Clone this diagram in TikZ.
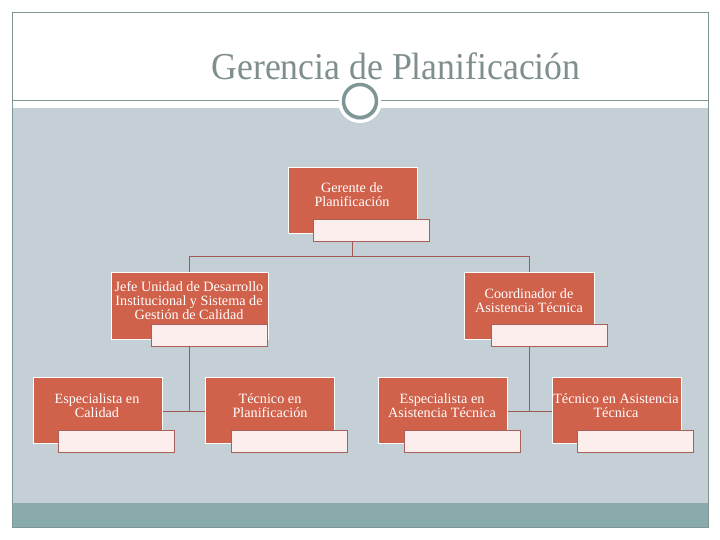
\documentclass[tikz,border=0pt]{standalone}
\usepackage{fontspec}
\setmainfont{Liberation Serif}
\definecolor{bgray}{HTML}{C5D0D6}
\definecolor{teal}{HTML}{8AABAB}
\definecolor{frame}{HTML}{7F9696}
\definecolor{titlec}{HTML}{7F8E8E}
\definecolor{boxc}{HTML}{D0614A}
\definecolor{subc}{HTML}{FBEEEC}
\definecolor{subb}{HTML}{A8605A}
\definecolor{linec}{HTML}{A05A52}
\begin{document}
\begin{tikzpicture}[x=1pt,y=-1pt,
  mainbox/.style={draw=white,line width=0.8pt,fill=boxc,minimum width=129pt,minimum height=66pt,anchor=north west,inner sep=0pt},
  subbox/.style={draw=subb,line width=0.8pt,fill=subc,minimum width=116pt,minimum height=22pt,anchor=north west,inner sep=0pt},
  lbl/.style={text=white,font=\fontsize{14.2}{14}\selectfont,align=center,inner sep=0pt},
  conn/.style={draw=linec,line width=0.8pt}]
\useasboundingbox (0,0) rectangle (720,540);
\fill[white] (0,0) rectangle (720,540);
% background areas
\fill[bgray] (12,108) rectangle (708,503);
\fill[teal] (12,503) rectangle (708,527);
\draw[frame,line width=0.7pt] (12,12) rectangle (708,527);
% title
\node[text=titlec,font=\fontsize{38}{40}\selectfont,xscale=0.94,transform shape] (title) at (396,66) {Gerencia de Planificación};
% line with circle
\coordinate (ll) at (12,100.5);
\coordinate (rr) at (708,100.5);
\node[circle,draw=frame,line width=3.5pt,fill=white,minimum size=33pt,inner sep=0pt] (ring) at (360,101) {};
\draw[white,line width=3pt] (ring.center) circle (20.5);
\draw[frame,line width=1pt] (ll) -- ([xshift=-3pt]ring.west |- ll);
\draw[frame,line width=1pt] ([xshift=3pt]ring.east |- rr) -- (rr);
% boxes
\node[mainbox] (g) at (288,167) {};
\node[subbox] (gs) at (313,219) {};
\node[lbl] at (352,195) {Gerente de\\Planificación};

\node[mainbox,minimum width=157pt,minimum height=67pt] (j) at (111,272) {};
\node[subbox] (js) at (151,324) {};
\node[lbl] at (189,301) {Jefe Unidad de Desarrollo\\Institucional y Sistema de\\Gestión de Calidad};

\node[mainbox,minimum width=130pt,minimum height=67pt] (c) at (464,272) {};
\node[subbox] (cs) at (491,324) {};
\node[lbl] at (529,301) {Coordinador de\\Asistencia Técnica};

\node[mainbox] (e1) at (33,377) {};
\node[subbox] (e1s) at (58,430) {};
\node[lbl] at (97,406) {Especialista en\\Calidad};

\node[mainbox] (t1) at (205,377) {};
\node[subbox] (t1s) at (231,430) {};
\node[lbl] at (270,406) {Técnico en\\Planificación};

\node[mainbox] (e2) at (378,377) {};
\node[subbox] (e2s) at (404,430) {};
\node[lbl] at (442,406) {Especialista en\\Asistencia Técnica};

\node[mainbox] (t2) at (552,377) {};
\node[subbox] (t2s) at (577,430) {};
\node[lbl] at (616,406) {Técnico en Asistencia\\Técnica};

% connectors
\coordinate (hj) at (189,256);
\coordinate (hc) at (529,256);
\draw[conn] (gs.south -| 352,0) -- (352,256);
\draw[conn] (hj) -- (hc);
\draw[conn] (hj) -- (j.north -| hj);
\draw[conn] (hc) -- (c.north -| hc);
\coordinate (bj) at (189,411);
\coordinate (bc) at (529,411);
\draw[conn] (js.south -| bj) -- (bj);
\draw[conn] (e1.east |- bj) -- (t1.west |- bj);
\draw[conn] (cs.south -| bc) -- (bc);
\draw[conn] (e2.east |- bc) -- (t2.west |- bc);
\end{tikzpicture}
\end{document}
